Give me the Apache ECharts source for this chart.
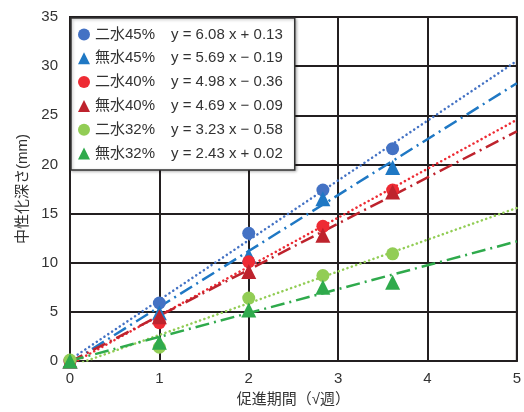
<!DOCTYPE html>
<html>
<head>
<meta charset="utf-8">
<script src="https://cdn.jsdelivr.net/npm/echarts@6/dist/echarts.min.js"></script>
<style>
  html, body { margin: 0; padding: 0; background: #fff; }
  #chart { width: 524px; height: 412px; }
</style>
</head>
<body>
<div id="chart"></div>
<script>
// 測定点（√週）
var weeks = [0, 1, 2, 2.83, 3.61];
var names = ['二水45%', '無水45%', '二水40%', '無水40%', '二水32%', '無水32%'];
var equations = ['y = 6.08 x + 0.13', 'y = 5.69 x − 0.19', 'y = 4.98 x − 0.36',
                 'y = 4.69 x − 0.09', 'y = 3.23 x − 0.58', 'y = 2.43 x + 0.02'];
// 中性化深さ(mm)
var niSui45 = [0, 5.9, 13.0, 17.4, 21.6];
var muSui45 = [0, 4.9, 10.7, 16.5, 19.7];
var niSui40 = [0, 3.9, 10.1, 13.7, 17.4];
var muSui40 = [0, 4.5, 9.1, 12.8, 17.2];
var niSui32 = [0.1, 1.4, 6.4, 8.7, 10.9];
var muSui32 = [0, 1.9, 5.2, 7.5, 8.0];
// 近似直線の端点 (x = 0, x = 5)
var trendX = [0, 5];
var trend45a = [0.13, 30.53];
var trend45b = [-0.19, 28.26];
var trend40a = [-0.36, 24.54];
var trend40b = [-0.09, 23.36];
var trend32a = [-0.58, 15.57];
var trend32b = [0.02, 12.17];

var colors = ['#4472C4', '#1F78C4', '#EE2B34', '#BE232D', '#92CD55', '#2FAA4C'];
var symbols = ['circle', 'triangle', 'circle', 'triangle', 'circle', 'triangle'];
var pts = [niSui45, muSui45, niSui40, muSui40, niSui32, muSui32];
var trends = [trend45a, trend45b, trend40a, trend40b, trend32a, trend32b];

var font = '"Liberation Sans", "Noto Sans CJK JP", sans-serif';

function pair(xs, ys) {
    return xs.map(function (x, i) { return [x, ys[i]]; });
}

var series = [];
// 近似直線
trends.forEach(function (t, i) {
    var dotted = symbols[i] === 'circle';
    series.push({
        name: 'trend' + i,
        type: 'line',
        data: pair(trendX, t),
        symbol: 'none',
        silent: true,
        z: 2,
        lineStyle: {
            color: colors[i],
            width: 2.5,
            cap: dotted ? 'round' : 'butt',
            type: dotted ? [0.1, 4.5] : [14, 5, 2, 5]
        }
    });
});
// 測定値
pts.forEach(function (p, i) {
    series.push({
        name: names[i],
        type: 'scatter',
        data: pair(weeks, p),
        symbol: symbols[i],
        symbolSize: symbols[i] === 'circle' ? 13 : 15,
        z: 5,
        itemStyle: { color: colors[i], opacity: 1 }
    });
});

var myChart = echarts.init(document.getElementById('chart'));
var option = {
    animation: false,
    textStyle: { fontFamily: font },
    grid: {
        left: 70,
        right: 7,
        top: 17,
        bottom: 47,
        show: true,
        borderColor: '#231F20',
        borderWidth: 2
    },
    legend: {
        data: names.map(function (n, i) { return { name: n, icon: symbols[i] }; }),
        orient: 'vertical',
        left: 71,
        top: 18,
        backgroundColor: '#fff',
        borderColor: '#333',
        borderWidth: 1.5,
        padding: [9, 12, 9, 7],
        itemWidth: 12,
        itemHeight: 12,
        itemGap: 8.8,
        shadowColor: 'rgba(0,0,0,0.3)',
        shadowBlur: 3,
        shadowOffsetX: 1,
        shadowOffsetY: 1,
        formatter: function (n) {
            return '{a|' + n + '}{b|' + equations[names.indexOf(n)] + '}';
        },
        textStyle: {
            rich: {
                a: { fontSize: 15, color: '#333', width: 76, fontFamily: font, lineHeight: 16 },
                b: { fontSize: 15, color: '#333', fontFamily: font, lineHeight: 16 }
            }
        }
    },
    xAxis: {
        type: 'value',
        min: 0,
        max: 5,
        interval: 1,
        name: '促進期間（√週）',
        nameLocation: 'middle',
        nameGap: 31,
        nameTextStyle: { fontSize: 15, color: '#333', fontFamily: font },
        axisLine: { lineStyle: { color: '#231F20', width: 2 } },
        axisTick: { show: false },
        axisLabel: { fontSize: 15, color: '#333', margin: 10 },
        splitLine: { lineStyle: { color: '#231F20', width: 2 } }
    },
    yAxis: {
        type: 'value',
        min: 0,
        max: 35,
        interval: 5,
        name: '中性化深さ(mm)',
        nameLocation: 'middle',
        nameGap: 37,
        nameTextStyle: { fontSize: 15, color: '#333', fontFamily: font },
        axisLine: { lineStyle: { color: '#231F20', width: 2 } },
        axisTick: { show: false },
        axisLabel: { fontSize: 15, color: '#333', margin: 12 },
        splitLine: { lineStyle: { color: '#231F20', width: 2 } }
    },
    series: series
};
myChart.setOption(option);
</script>
</body>
</html>
